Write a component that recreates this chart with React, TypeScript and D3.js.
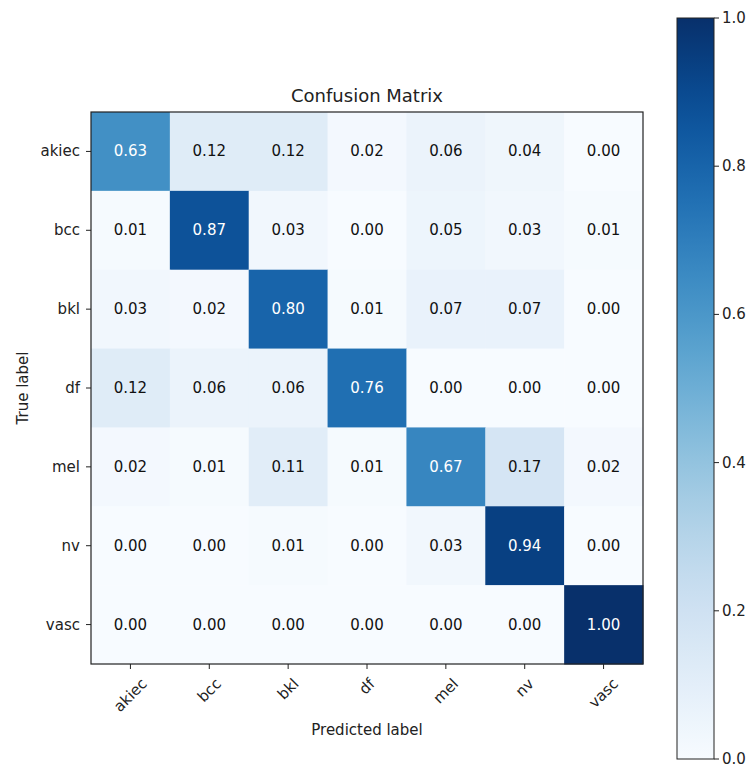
import React, { useEffect, useRef } from "react";
import * as d3 from "d3";

const CLASSES = ["akiec", "bcc", "bkl", "df", "mel", "nv", "vasc"];
const ROW_AKIEC = [0.63, 0.12, 0.12, 0.02, 0.06, 0.04, 0.0];
const ROW_BCC = [0.01, 0.87, 0.03, 0.0, 0.05, 0.03, 0.01];
const ROW_BKL = [0.03, 0.02, 0.8, 0.01, 0.07, 0.07, 0.0];
const ROW_DF = [0.12, 0.06, 0.06, 0.76, 0.0, 0.0, 0.0];
const ROW_MEL = [0.02, 0.01, 0.11, 0.01, 0.67, 0.17, 0.02];
const ROW_NV = [0.0, 0.0, 0.01, 0.0, 0.03, 0.94, 0.0];
const ROW_VASC = [0.0, 0.0, 0.0, 0.0, 0.0, 0.0, 1.0];
const MATRIX = [ROW_AKIEC, ROW_BCC, ROW_BKL, ROW_DF, ROW_MEL, ROW_NV, ROW_VASC];
const CBAR_TICKS = [0.0, 0.2, 0.4, 0.6, 0.8, 1.0];

const W = 752;
const H = 769;
const FONT = "DejaVu Sans, sans-serif";

export default function App() {
  const ref = useRef<SVGSVGElement | null>(null);

  useEffect(() => {
    const svg = d3.select(ref.current);
    svg.selectAll("*").remove();

    const left = 91, top = 112, size = 552;
    const x = d3.scaleBand().domain(CLASSES).range([left, left + size]);
    const y = d3.scaleBand().domain(CLASSES).range([top, top + size]);
    const color = d3.scaleSequential(d3.interpolateBlues).domain([0, 1]);

    const cells = MATRIX.flatMap((row, i) =>
      row.map((v, j) => ({ r: CLASSES[i], c: CLASSES[j], v }))
    );

    const g = svg.append("g");
    g.selectAll("rect.cell")
      .data(cells)
      .join("rect")
      .attr("class", "cell")
      .attr("x", (d) => x(d.c)!)
      .attr("y", (d) => y(d.r)!)
      .attr("width", x.bandwidth() + 0.5)
      .attr("height", y.bandwidth() + 0.5)
      .attr("fill", (d) => color(d.v));

    g.selectAll("text.val")
      .data(cells)
      .join("text")
      .attr("class", "val")
      .attr("x", (d) => x(d.c)! + x.bandwidth() / 2)
      .attr("y", (d) => y(d.r)! + y.bandwidth() / 2)
      .attr("text-anchor", "middle")
      .attr("dominant-baseline", "central")
      .attr("font-family", FONT)
      .attr("font-size", 15)
      .attr("fill", (d) => (d.v > 0.5 ? "#ffffff" : "#111111"))
      .text((d) => d.v.toFixed(2));

    g.append("rect")
      .attr("x", left)
      .attr("y", top)
      .attr("width", size)
      .attr("height", size)
      .attr("fill", "none")
      .attr("stroke", "#222")
      .attr("stroke-width", 1.2);

    // y ticks
    CLASSES.forEach((c) => {
      const cy = y(c)! + y.bandwidth() / 2;
      g.append("line")
        .attr("x1", left - 5).attr("x2", left)
        .attr("y1", cy).attr("y2", cy)
        .attr("stroke", "#222");
      g.append("text")
        .attr("x", left - 11)
        .attr("y", cy)
        .attr("text-anchor", "end")
        .attr("dominant-baseline", "central")
        .attr("font-family", FONT)
        .attr("font-size", 15)
        .attr("fill", "#222")
        .text(c);
    });

    // x ticks
    const xTickBottom = top + size + 5;
    const labelTop = 675;
    const lineH = 17.5;
    CLASSES.forEach((c) => {
      const cx = x(c)! + x.bandwidth() / 2;
      g.append("line")
        .attr("x1", cx).attr("x2", cx)
        .attr("y1", top + size).attr("y2", xTickBottom)
        .attr("stroke", "#222");
      const t = g.append("text")
        .attr("text-anchor", "middle")
        .attr("dominant-baseline", "central")
        .attr("font-family", FONT)
        .attr("font-size", 15)
        .attr("fill", "#222")
        .text(c);
      const w = (t.node() as SVGTextElement).getComputedTextLength();
      const rh = (w + lineH) / Math.SQRT2;
      t.attr("transform", `translate(${cx},${labelTop + rh / 2}) rotate(-45)`);
    });

    // title & axis labels
    g.append("text")
      .attr("x", left + size / 2)
      .attr("y", 102)
      .attr("text-anchor", "middle")
      .attr("font-family", FONT)
      .attr("font-size", 18)
      .attr("fill", "#222")
      .text("Confusion Matrix");

    g.append("text")
      .attr("x", left + size / 2)
      .attr("y", 735)
      .attr("text-anchor", "middle")
      .attr("font-family", FONT)
      .attr("font-size", 15)
      .attr("fill", "#222")
      .text("Predicted label");

    g.append("text")
      .attr("transform", `translate(28,${top + size / 2}) rotate(-90)`)
      .attr("text-anchor", "middle")
      .attr("font-family", FONT)
      .attr("font-size", 15)
      .attr("fill", "#222")
      .text("True label");

    // colorbar
    const cbX = 677, cbW = 37, cbTop = 18, cbBottom = 759;
    const cy = d3.scaleLinear().domain([0, 1]).range([cbBottom, cbTop]);
    const defs = svg.append("defs");
    const grad = defs.append("linearGradient")
      .attr("id", "cbgrad")
      .attr("x1", 0).attr("y1", 1).attr("x2", 0).attr("y2", 0);
    d3.range(0, 1.0001, 0.05).forEach((s) => {
      grad.append("stop").attr("offset", s).attr("stop-color", color(s));
    });
    g.append("rect")
      .attr("x", cbX)
      .attr("y", cy(1))
      .attr("width", cbW)
      .attr("height", cy(0) - cy(1))
      .attr("fill", "url(#cbgrad)")
      .attr("stroke", "#222")
      .attr("stroke-width", 1);
    CBAR_TICKS.forEach((tv) => {
      g.append("line")
        .attr("x1", cbX + cbW).attr("x2", cbX + cbW + 5)
        .attr("y1", cy(tv)).attr("y2", cy(tv))
        .attr("stroke", "#222");
      g.append("text")
        .attr("x", cbX + cbW + 8)
        .attr("y", cy(tv))
        .attr("dominant-baseline", "central")
        .attr("font-family", FONT)
        .attr("font-size", 15)
        .attr("fill", "#222")
        .text(tv.toFixed(1));
    });
  }, []);

  return (
    <svg
      ref={ref}
      width={W}
      height={H}
      style={{ position: "absolute", left: 0, top: 0, background: "#fff" }}
    />
  );
}
